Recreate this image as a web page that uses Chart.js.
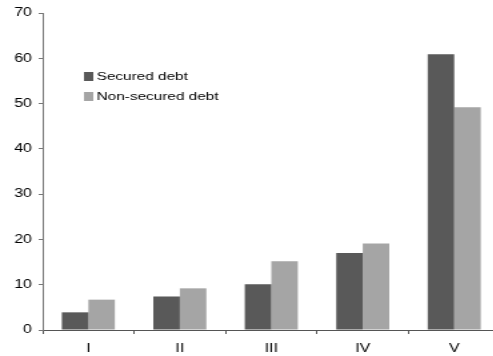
<!DOCTYPE html>
<html>
<head>
<meta charset="utf-8">
<script src="https://cdn.jsdelivr.net/npm/chart.js@4/dist/chart.umd.min.js"></script>
<style>
  html, body { margin: 0; padding: 0; background: #fff; overflow: hidden; width: 493px; height: 356px; }
  /* the original picture is stretched sideways, so draw narrow and widen it */
  #wrap { transform: scaleX(1.3333); transform-origin: 0 0; width: 375px; height: 356px; }
</style>
</head>
<body>
<div id="wrap">
  <canvas id="myChart" width="375" height="356"></canvas>
</div>
<script>
const categories = ['I', 'II', 'III', 'IV', 'V'];
const securedDebt = [3.9, 7.4, 10.1, 17.0, 60.9];
const nonSecuredDebt = [6.7, 9.2, 15.2, 19.1, 49.2];
const yTicks = [0, 10, 20, 30, 40, 50, 60, 70];

const FONT = '"Liberation Sans", Arial, sans-serif';

// legend drawn inside the plot, top left
const insideLegend = {
    id: 'insideLegend',
    afterDraw(chart) {
        const ctx = chart.ctx;
        ctx.save();
        ctx.font = '11.5px ' + FONT;
        ctx.textBaseline = 'middle';
        chart.data.datasets.forEach((ds, i) => {
            const y = 72 + i * 20;
            ctx.fillStyle = ds.backgroundColor;
            ctx.fillRect(63, y, 7, 9);
            ctx.fillStyle = '#000';
            ctx.fillText(ds.label, 72.5, y + 5);
        });
        ctx.restore();
    }
};

const ctx = document.getElementById('myChart').getContext('2d');

const myChart = new Chart(ctx, {
    type: 'bar',
    data: {
        labels: categories,
        datasets: [{
            label: 'Secured debt',
            data: securedDebt,
            backgroundColor: '#595959',
            borderWidth: 0,
            categoryPercentage: 0.58,
            barPercentage: 1.0
        }, {
            label: 'Non-secured debt',
            data: nonSecuredDebt,
            backgroundColor: '#a5a5a5',
            borderWidth: 0,
            categoryPercentage: 0.58,
            barPercentage: 1.0
        }]
    },
    options: {
        responsive: false,
        animation: false,
        devicePixelRatio: 1,
        layout: {
            padding: { top: 13, right: 0, bottom: 0, left: 0 }
        },
        plugins: {
            legend: { display: false },
            tooltip: { enabled: false }
        },
        scales: {
            x: {
                grid: {
                    display: true,
                    drawOnChartArea: false,
                    drawTicks: true,
                    tickLength: 4,
                    color: '#555',
                    offset: true
                },
                border: { display: true, color: '#555', width: 1 },
                ticks: {
                    color: '#000',
                    font: { family: FONT, size: 12 },
                    padding: 7,
                    maxRotation: 0
                },
                afterFit(scale) { scale.height = 26; }
            },
            y: {
                min: 0,
                max: 70,
                afterBuildTicks(scale) {
                    scale.ticks = yTicks.map(v => ({ value: v }));
                },
                grid: {
                    display: true,
                    drawOnChartArea: false,
                    drawTicks: true,
                    tickLength: 3,
                    color: '#777'
                },
                border: { display: true, color: '#777', width: 1 },
                ticks: {
                    color: '#000',
                    font: { family: FONT, size: 12 },
                    padding: 5
                },
                afterFit(scale) { scale.width = 32; }
            }
        }
    },
    plugins: [insideLegend]
});
</script>
</body>
</html>
